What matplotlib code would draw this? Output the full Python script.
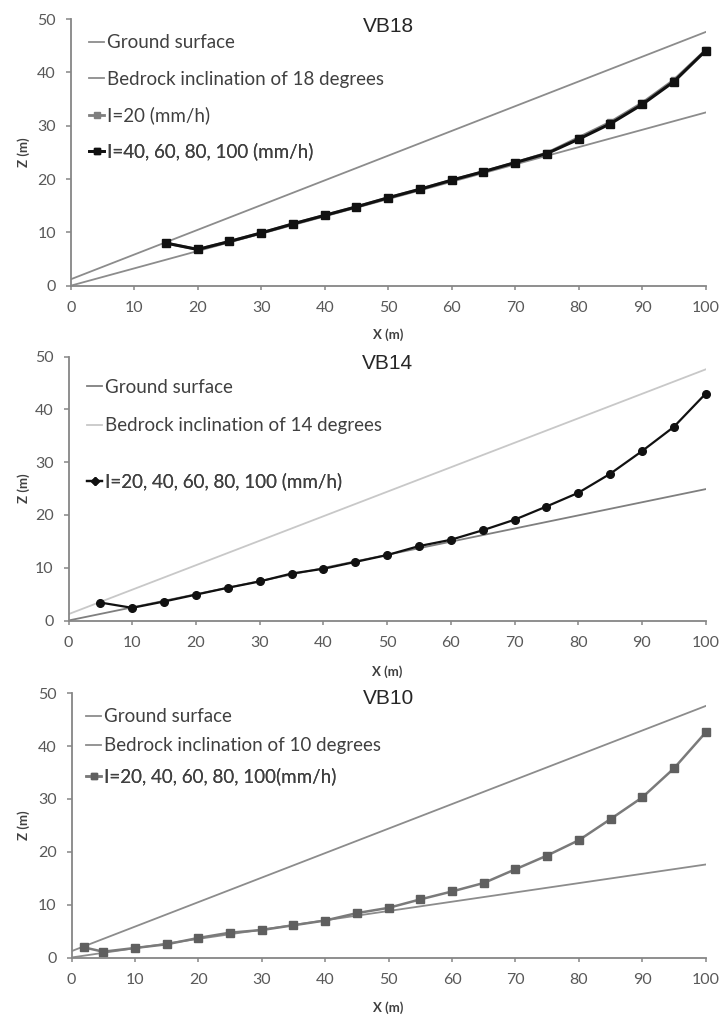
import matplotlib
matplotlib.use("Agg")
import matplotlib.pyplot as plt
from matplotlib.lines import Line2D

W, H = 723, 1016

# ---- data -------------------------------------------------------------
# straight reference lines (x from 0 to 100 m)
line_x = [0, 100]
upper_z = [1.2, 47.6]
lower_z_18 = [0.0, 32.5]
lower_z_14 = [0.0, 24.9]
lower_z_10 = [0.0, 17.6]

# VB18
x_vb18 = [15, 20, 25, 30, 35, 40, 45, 50, 55, 60, 65, 70, 75, 80, 85, 90, 95, 100]
z_vb18_i20 = [8.0, 6.8, 8.3, 9.9, 11.6, 13.2, 14.8, 16.5, 18.1, 19.8, 21.4,
              23.1, 24.9, 27.8, 30.7, 34.3, 38.6, 44.2]
z_vb18_i40_100 = [8.0, 6.8, 8.3, 9.9, 11.6, 13.2, 14.8, 16.5, 18.1, 19.8, 21.4,
                  23.1, 24.8, 27.5, 30.4, 34.0, 38.3, 44.1]

# VB14
x_vb14 = [5, 10, 15, 20, 25, 30, 35, 40, 45, 50, 55, 60, 65, 70, 75, 80, 85,
          90, 95, 100]
z_vb14 = [3.4, 2.4, 3.6, 4.9, 6.2, 7.4, 8.9, 9.8, 11.1, 12.4, 14.1, 15.3, 17.1,
          19.1, 21.6, 24.2, 27.8, 32.1, 36.7, 43.0]

# VB10
x_vb10 = [2, 5, 10, 15, 20, 25, 30, 35, 40, 45, 50, 55, 60, 65, 70, 75, 80,
          85, 90, 95, 100]
z_vb10 = [1.9, 1.1, 1.8, 2.5, 3.7, 4.7, 5.2, 6.1, 7.0, 8.4, 9.4, 11.0, 12.5,
          14.1, 16.7, 19.3, 22.2, 26.2, 30.3, 35.8, 42.6]

x_ticks = list(range(0, 101, 10))
z_ticks = list(range(0, 51, 10))

# ---- style ------------------------------------------------------------
AXIS_GREY = "#868686"
TEXT_GREY = "#404040"
TICK_GREY = "#595959"
LEG_FONT = dict(family="Lato", size=13.5)
TICK_FONT = dict(family="Lato", size=11.5)
LABEL_FONT = dict(family="Lato", size=9.5, weight="bold")

fig = plt.figure(figsize=(W / 100, H / 100), dpi=100)


def add_panel(left, right, top, bottom):
    ax = fig.add_axes([left / W, 1 - bottom / H, (right - left) / W, (bottom - top) / H])
    ax.set_xlim(0, 100)
    ax.set_ylim(0, 50)
    ax.set_xticks(x_ticks)
    ax.set_yticks(z_ticks)
    for s in ("top", "right"):
        ax.spines[s].set_visible(False)
    for s in ("left", "bottom"):
        ax.spines[s].set_color(AXIS_GREY)
        ax.spines[s].set_linewidth(1.3)
    ax.tick_params(axis="y", direction="out", length=3.6, width=1.1,
                   color=AXIS_GREY, pad=7, labelcolor=TICK_GREY)
    ax.tick_params(axis="x", direction="out", length=3.2, width=1.1,
                   color=AXIS_GREY, pad=8, labelcolor=TICK_GREY)
    for lab in ax.get_xticklabels() + ax.get_yticklabels():
        lab.set_fontfamily(TICK_FONT["family"])
        lab.set_fontsize(TICK_FONT["size"])
    h = bottom - top
    ax.set_xlabel("X (m)", color=TEXT_GREY, va="center", **LABEL_FONT)
    ax.set_ylabel("Z (m)", color=TEXT_GREY, va="center", **LABEL_FONT)
    ax.xaxis.set_label_coords(0.5, -(50.0 / h))
    ax.yaxis.set_label_coords((24 - left) / (right - left), 0.5)
    return ax, h


def title(ax, h, text, offset):
    ax.text(0.5, 1 - offset / h, text, transform=ax.transAxes, ha="center",
            va="center", family="Liberation Sans", fontsize=15, color="#262626")


def legend_entry(ax, handle, label, x_px, y_px):
    leg = ax.legend([handle], [label], loc="center left",
                    bbox_to_anchor=(x_px / W, 1 - y_px / H),
                    bbox_transform=fig.transFigure, frameon=False,
                    borderpad=0, borderaxespad=0, handlelength=0.8,
                    handletextpad=0.15, numpoints=1, prop=LEG_FONT,
                    labelcolor=TEXT_GREY)
    ax.add_artist(leg)


# ---- VB18 -------------------------------------------------------------
ax1, h1 = add_panel(70.7, 705.7, 19.2, 285.7)
c_line1 = "#8c8c8c"
ax1.plot(line_x, upper_z, color=c_line1, lw=1.3)
ax1.plot(line_x, lower_z_18, color=c_line1, lw=1.3)
ax1.plot(x_vb18, z_vb18_i20, color="#7f7f7f", lw=2.0, marker="s", ms=5,
         mfc="#7f7f7f", mec="#7f7f7f", clip_on=False)
ax1.plot(x_vb18, z_vb18_i40_100, color="#111111", lw=2.2, marker="s", ms=5.5,
         mfc="#111111", mec="#111111", clip_on=False)
title(ax1, h1, "VB18", 7)
legend_entry(ax1, Line2D([], [], color=c_line1, lw=1.3), "Ground surface", 89, 42.7)
legend_entry(ax1, Line2D([], [], color=c_line1, lw=1.3),
             "Bedrock inclination of 18 degrees", 89, 79.3)
legend_entry(ax1, Line2D([], [], color="#7f7f7f", lw=2, marker="s", ms=5),
             "I=20 (mm/h)", 89, 115.5)
legend_entry(ax1, Line2D([], [], color="#111111", lw=2, marker="s", ms=5),
             "I=40, 60, 80, 100 (mm/h)", 89, 151.7)
ax1.xaxis.set_label_coords(0.5, -(49.0 / h1))

# ---- VB14 -------------------------------------------------------------
ax2, h2 = add_panel(68.5, 705.7, 356.7, 620.5)
c_dark2, c_light2 = "#7f7f7f", "#c8c8c8"
ax2.plot(line_x, upper_z, color=c_light2, lw=1.3)
ax2.plot(line_x, lower_z_14, color=c_dark2, lw=1.3)
ax2.plot(x_vb14, z_vb14, color="#111111", lw=1.6, marker="o", ms=5.5,
         mfc="#111111", mec="#111111", clip_on=False)
title(ax2, h2, "VB14", 6.7)
legend_entry(ax2, Line2D([], [], color=c_dark2, lw=1.3), "Ground surface", 87, 387.3)
legend_entry(ax2, Line2D([], [], color=c_light2, lw=1.3),
             "Bedrock inclination of 14 degrees", 87, 426)
legend_entry(ax2, Line2D([], [], color="#111111", lw=1.6, marker="D", ms=4.5),
             "I=20, 40, 60, 80, 100 (mm/h)", 87, 481.7)
ax2.xaxis.set_label_coords(0.5, -(51.5 / h2))

# ---- VB10 -------------------------------------------------------------
ax3, h3 = add_panel(71.5, 705.7, 693.3, 957.5)
c_line3 = "#8c8c8c"
ax3.plot(line_x, upper_z, color=c_line3, lw=1.3)
ax3.plot(line_x, lower_z_10, color=c_line3, lw=1.3)
ax3.plot(x_vb10, z_vb10, color="#7a7a7a", lw=1.8, marker="s", ms=6,
         mfc="#5f5f5f", mec="#5f5f5f", clip_on=False)
title(ax3, h3, "VB10", 5)
legend_entry(ax3, Line2D([], [], color=c_line3, lw=1.3), "Ground surface", 86, 716.7)
legend_entry(ax3, Line2D([], [], color=c_line3, lw=1.3),
             "Bedrock inclination of 10 degrees", 86, 746)
legend_entry(ax3, Line2D([], [], color="#7a7a7a", lw=1.8, marker="s", ms=5,
                         mfc="#5f5f5f", mec="#5f5f5f"),
             "I=20, 40, 60, 80, 100(mm/h)", 86, 776.7)
ax3.xaxis.set_label_coords(0.5, -(50.5 / h3))

fig.savefig("out.png", dpi=100)
